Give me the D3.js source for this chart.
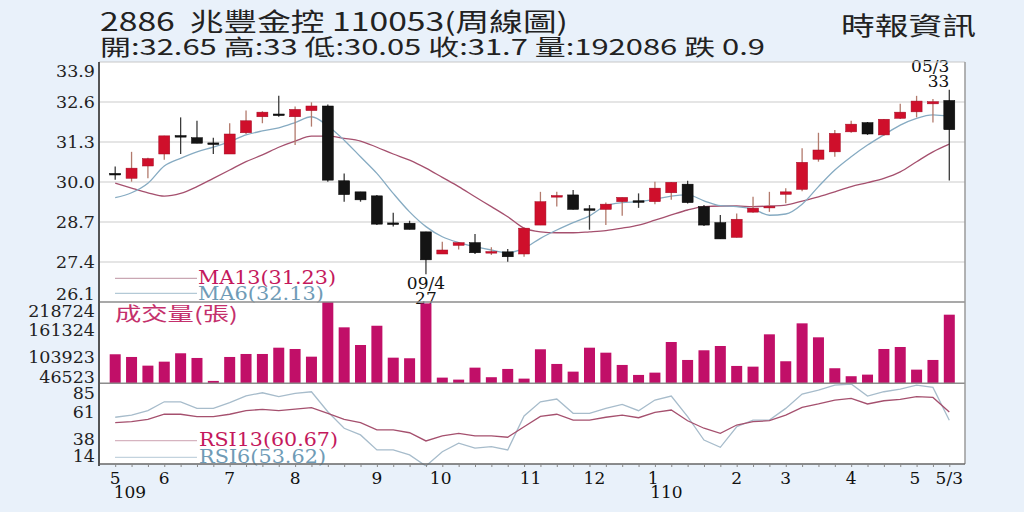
<!DOCTYPE html>
<html lang="zh-Hant">
<head>
    <meta charset="UTF-8">
    <title>2886 兆豐金控 周線圖</title>
    <script src="https://d3js.org/d3.v7.min.js"></script>
    <style>
        body { margin: 0; background: #e9f1fa; }
        svg { display: block; }
        text { white-space: pre; }
    </style>
</head>
<body>
    <svg width="1024" height="512"></svg>
    <script>
        // weekly candles, 109/05 .. 110/05/3 (one entry per week)
        const opens  = [30.28, 30.12, 30.52, 30.91, 31.51, 31.44, 31.27, 30.91, 31.60, 32.12,
                        32.21, 32.12, 32.32, 32.47, 30.04, 29.68, 29.55, 28.67, 28.66, 28.38,
                        27.66, 27.94, 28.03, 27.72, 27.73, 27.66, 28.60, 29.54, 29.58, 29.13,
                        29.11, 29.36, 29.39, 29.36, 29.65, 29.93, 29.20, 28.68, 28.20, 29.02,
                        29.19, 29.60, 29.76, 30.74, 30.98, 31.63, 31.93, 31.53, 32.07, 32.28,
                        32.54, 32.65];
        const highs  = [30.50, 30.98, 30.79, 31.50, 32.10, 31.99, 31.44, 31.91, 32.32, 32.30,
                        32.80, 32.45, 32.59, 32.52, 30.28, 29.68, 29.58, 29.00, 28.74, 28.38,
                        28.06, 28.05, 28.31, 27.88, 27.82, 28.52, 29.68, 29.68, 29.74, 29.25,
                        29.33, 29.50, 29.63, 30.01, 30.00, 30.04, 29.25, 28.93, 28.98, 29.52,
                        29.68, 29.80, 31.10, 31.60, 31.69, 31.99, 31.95, 32.05, 32.54, 32.80,
                        32.70, 33.00];
        const lows   = [30.07, 30.01, 30.12, 30.72, 30.91, 31.26, 30.91, 30.91, 31.56, 31.91,
                        32.12, 31.20, 31.80, 30.01, 29.36, 29.36, 28.60, 28.55, 28.46, 27.00,
                        27.66, 27.81, 27.66, 27.63, 27.41, 27.57, 28.60, 29.20, 29.11, 28.45,
                        28.60, 28.90, 29.16, 29.28, 29.42, 29.30, 28.57, 28.15, 28.20, 29.00,
                        29.03, 29.31, 29.70, 30.66, 30.82, 31.60, 31.53, 31.50, 32.05, 32.10,
                        31.93, 30.05];
        const closes = [30.27, 30.45, 30.76, 31.50, 31.49, 31.26, 31.25, 31.56, 31.99, 32.27,
                        32.19, 32.36, 32.47, 30.06, 29.59, 29.42, 28.63, 28.65, 28.46, 27.47,
                        27.79, 28.03, 27.70, 27.74, 27.57, 28.50, 29.36, 29.56, 29.11, 29.11,
                        29.28, 29.50, 29.37, 29.80, 29.99, 29.33, 28.60, 28.15, 28.79, 29.15,
                        29.21, 29.68, 30.64, 31.04, 31.58, 31.88, 31.56, 32.04, 32.27, 32.63,
                        32.61, 31.70];
        const volumes = [108946, 103289, 85063, 93443, 111041, 101194, 53009, 103289, 109574, 109574,
                         122773, 120049, 103918, 218724, 165511, 128429, 168863, 101823, 100566, 215791,
                         59923, 55733, 80873, 60761, 78149, 57828, 119421, 88624, 72493, 122773,
                         112298, 86529, 65579, 70398, 134714, 97004, 117326, 126334, 84434, 82968,
                         150846, 94281, 173891, 144561, 79616, 62856, 66208, 120049, 124239, 76683,
                         97004, 192086];
        const ma6  = [29.49, 29.65, 29.96, 30.52, 30.77, 30.98, 31.13, 31.31, 31.53, 31.66,
                      31.76, 31.93, 32.12, 31.82, 31.36, 30.82, 30.28, 29.63, 29.03, 28.55,
                      28.22, 28.03, 27.90, 27.79, 27.70, 27.85, 28.17, 28.44, 28.68, 28.90,
                      29.23, 29.33, 29.36, 29.44, 29.54, 29.58, 29.39, 29.23, 29.20, 29.12,
                      28.92, 28.96, 29.28, 29.85, 30.39, 30.82, 31.20, 31.53, 31.85, 32.07,
                      32.18, 32.13];
        const ma13 = [29.96, 29.80, 29.65, 29.54, 29.63, 29.85, 30.12, 30.39, 30.66, 30.88,
                      31.13, 31.33, 31.49, 31.49, 31.42, 31.33, 31.13, 30.91, 30.71, 30.45,
                      30.15, 29.85, 29.52, 29.20, 28.87, 28.50, 28.38, 28.35, 28.35, 28.38,
                      28.42, 28.50, 28.60, 28.76, 28.93, 29.09, 29.20, 29.22, 29.22, 29.20,
                      29.22, 29.25, 29.38, 29.52, 29.68, 29.85, 29.98, 30.12, 30.33, 30.66,
                      30.98, 31.23];
        const rsi6  = [56.2, 58.1, 61.9, 69.6, 69.6, 63.9, 63.9, 68.8, 74.8, 77.4,
                       74.0, 76.9, 78.3, 61.0, 46.7, 40.9, 27.9, 27.9, 23.6, 14.0,
                       26.4, 33.7, 29.4, 30.7, 27.9, 57.3, 69.6, 72.0, 59.6, 59.6,
                       63.9, 67.4, 61.9, 71.1, 74.6, 56.7, 36.5, 30.2, 48.0, 53.8,
                       53.8, 63.9, 76.3, 79.8, 84.1, 85.0, 74.6, 78.3, 80.6, 84.1,
                       82.1, 53.62];
        const rsi13 = [51.5, 52.4, 54.4, 59.0, 58.8, 56.7, 56.7, 58.8, 61.9, 63.1,
                       61.9, 63.3, 64.5, 59.6, 54.4, 51.5, 45.2, 45.2, 42.8, 35.7,
                       40.0, 42.3, 40.0, 40.0, 38.9, 48.0, 57.0, 58.8, 53.8, 53.8,
                       56.2, 58.1, 55.8, 60.5, 62.5, 53.2, 46.7, 42.3, 49.5, 52.4,
                       53.2, 58.1, 64.8, 67.7, 71.1, 72.6, 67.7, 70.5, 71.7, 74.0,
                       73.4, 60.67];

        const priceTicks = [33.9, 32.6, 31.3, 30.0, 28.7, 27.4, 26.1];
        const volumeTicks = [218724, 161324, 103923, 46523];
        const rsiTicks = [85, 61, 38, 14];
        // month labels, placed by week index
        const monthTickPos = [0, 3, 7, 11, 16, 19.9, 25.4, 29.3, 32.9, 38, 41, 45, 48.9, 51];
        const monthLabels = ["5", "6", "7", "8", "9", "10", "11", "12", "1", "2", "3", "4", "5", "5/3"];
        const yearTickPos = [0.9, 33.7];
        const yearLabels = ["109", "110"];

        const titleText = "2886  兆豐金控 110053(周線圖)";
        const quoteText = "開:32.65 高:33 低:30.05 收:31.7 量:192086 跌 0.9";
        const sourceText = "時報資訊";

        // layout
        const plotLeft = 99, plotRight = 965, plotTop = 62;
        const priceBottom = 302, volBottom = 383.3, rsiBottom = 464;
        const serif = "'DejaVu Serif', serif";
        const cjk = "'Noto Sans CJK TC', sans-serif";
        const red = "#cf0f2b", black = "#141414";
        const ma13Color = "#a5506e", ma6Color = "#86abc2";
        const legendRed = "#c4185c", legendBlue = "#6f9bb6";

        const svg = d3.select("svg");
        const idx = d3.range(closes.length);

        const x = d3.scaleLinear().domain([0, closes.length - 1]).range([115.2, 949.3]);
        const yPrice = d3.scaleLinear().domain([26.1, 33.9]).range([priceBottom, plotTop]);
        const yVol = d3.scaleLinear().domain([46523, 218724]).range([384, priceBottom]);
        const yRsi = d3.scaleLinear().domain([14, 85]).range([466, 384]);

        // plot background
        svg.append("rect")
            .attr("x", plotLeft).attr("y", plotTop)
            .attr("width", plotRight - plotLeft).attr("height", rsiBottom - plotTop)
            .attr("fill", "#fff");

        svg.append("clipPath").attr("id", "rsiClip")
            .append("rect")
            .attr("x", plotLeft).attr("y", volBottom)
            .attr("width", plotRight - plotLeft).attr("height", rsiBottom - volBottom + 2);

        // header
        svg.append("text")
            .attr("x", 100).attr("y", 31)
            .attr("font-family", cjk).attr("font-size", 25).attr("fill", "#222")
            .attr("textLength", 468).attr("lengthAdjust", "spacingAndGlyphs")
            .text(titleText);
        svg.append("text")
            .attr("x", 100).attr("y", 55)
            .attr("font-family", cjk).attr("font-size", 22).attr("fill", "#222")
            .attr("textLength", 665).attr("lengthAdjust", "spacingAndGlyphs")
            .text(quoteText);
        svg.append("text")
            .attr("x", 841).attr("y", 35)
            .attr("font-family", cjk).attr("font-size", 25).attr("fill", "#222")
            .attr("textLength", 135).attr("lengthAdjust", "spacingAndGlyphs")
            .text(sourceText);

        // price grid
        svg.append("g")
            .selectAll("line")
            .data(priceTicks.slice(1, -1))
            .join("line")
            .attr("x1", plotLeft).attr("x2", plotRight)
            .attr("y1", d => yPrice(d)).attr("y2", d => yPrice(d))
            .attr("stroke", "#dcdcdc").attr("stroke-width", 1.5);

        // axis labels, kept inside their panel like the original
        function tickLabels(ticks, scale, y0, y1, fmt) {
            svg.append("g")
                .selectAll("text")
                .data(ticks)
                .join("text")
                .attr("x", 95)
                .attr("y", d => Math.min(Math.max(scale(d), y0 + 9), y1 - 8))
                .attr("dy", "0.36em")
                .attr("text-anchor", "end")
                .attr("font-family", serif).attr("font-size", 17.5).attr("fill", "#222")
                .text(fmt);
        }
        tickLabels(priceTicks, yPrice, plotTop, priceBottom, d => d.toFixed(1));
        tickLabels(volumeTicks, yVol, priceBottom, volBottom + 1, d => d);
        tickLabels(rsiTicks, yRsi, volBottom, rsiBottom, d => d);

        // moving averages
        const maLine = d3.line().x((d, i) => x(i)).y(d => yPrice(d)).curve(d3.curveMonotoneX);
        svg.append("path").datum(ma13).attr("d", maLine)
            .attr("fill", "none").attr("stroke", ma13Color).attr("stroke-width", 1.3);
        svg.append("path").datum(ma6).attr("d", maLine)
            .attr("fill", "none").attr("stroke", ma6Color).attr("stroke-width", 1.3);

        // candles
        const candles = svg.append("g")
            .selectAll("g")
            .data(idx)
            .join("g");

        candles.append("line")
            .attr("x1", i => x(i)).attr("x2", i => x(i))
            .attr("y1", i => yPrice(highs[i])).attr("y2", i => yPrice(lows[i]))
            .attr("stroke", i => closes[i] > opens[i] ? "#b27a6c" : "#3a3a3a")
            .attr("stroke-width", 1.3);

        candles.append("rect")
            .attr("x", i => x(i) - 5.5)
            .attr("width", 11)
            .attr("y", i => yPrice(Math.max(opens[i], closes[i])))
            .attr("height", i => Math.max(1.6, Math.abs(yPrice(opens[i]) - yPrice(closes[i]))))
            .attr("fill", i => closes[i] > opens[i] ? red : black)
            .attr("stroke", i => closes[i] > opens[i] ? "#a30a22" : "#000")
            .attr("stroke-width", 0.5);

        // price legend
        svg.append("line").attr("x1", 115).attr("x2", 197).attr("y1", 278.3).attr("y2", 278.3)
            .attr("stroke", "#c9a7b3").attr("stroke-width", 1.3);
        svg.append("text").attr("x", 198).attr("y", 284)
            .attr("font-family", serif).attr("font-size", 18.5).attr("fill", legendRed)
            .attr("textLength", 138).attr("lengthAdjust", "spacingAndGlyphs")
            .text("MA13(" + ma13[ma13.length - 1].toFixed(2) + ")");
        svg.append("line").attr("x1", 115).attr("x2", 197).attr("y1", 293.3).attr("y2", 293.3)
            .attr("stroke", "#b3c9d6").attr("stroke-width", 1.3);
        svg.append("text").attr("x", 198).attr("y", 299.5)
            .attr("font-family", serif).attr("font-size", 18.5).attr("fill", legendBlue)
            .attr("textLength", 126).attr("lengthAdjust", "spacingAndGlyphs")
            .text("MA6(" + ma6[ma6.length - 1].toFixed(2) + ")");

        // low / high annotations
        const lowIdx = d3.minIndex(lows);
        const highIdx = d3.maxIndex(highs);
        svg.append("text").attr("x", x(lowIdx)).attr("y", 289)
            .attr("text-anchor", "middle")
            .attr("font-family", serif).attr("font-size", 17).attr("fill", "#111")
            .text("09/4");
        svg.append("text").attr("x", x(lowIdx)).attr("y", 304)
            .attr("text-anchor", "middle")
            .attr("font-family", serif).attr("font-size", 17).attr("fill", "#111")
            .text(d3.format("d")(lows[lowIdx]));
        svg.append("text").attr("x", x(highIdx)).attr("y", 72)
            .attr("text-anchor", "end")
            .attr("font-family", serif).attr("font-size", 17).attr("fill", "#111")
            .text("05/3");
        svg.append("text").attr("x", x(highIdx)).attr("y", 87)
            .attr("text-anchor", "end")
            .attr("font-family", serif).attr("font-size", 17).attr("fill", "#111")
            .text(d3.format("d")(highs[highIdx]));

        // volume bars
        svg.append("g")
            .selectAll("rect")
            .data(idx)
            .join("rect")
            .attr("x", i => x(i) - 5.5)
            .attr("width", 11)
            .attr("y", i => yVol(volumes[i]))
            .attr("height", i => Math.max(0, volBottom - yVol(volumes[i])))
            .attr("fill", "#c10f68");

        svg.append("text").attr("x", 115).attr("y", 321)
            .attr("font-family", cjk).attr("font-size", 19).attr("fill", "#c4306c")
            .attr("textLength", 123).attr("lengthAdjust", "spacingAndGlyphs")
            .text("成交量(張)");

        // RSI
        const rsiLine = d3.line().x((d, i) => x(i)).y(d => yRsi(d));
        const rsiG = svg.append("g").attr("clip-path", "url(#rsiClip)");
        rsiG.append("path").datum(rsi6).attr("d", rsiLine)
            .attr("fill", "none").attr("stroke", "#a7bccb").attr("stroke-width", 1.3);
        rsiG.append("path").datum(rsi13).attr("d", rsiLine)
            .attr("fill", "none").attr("stroke", ma13Color).attr("stroke-width", 1.3);

        svg.append("line").attr("x1", 115).attr("x2", 197).attr("y1", 440.7).attr("y2", 440.7)
            .attr("stroke", "#d6b4c0").attr("stroke-width", 1.2);
        svg.append("text").attr("x", 199).attr("y", 446)
            .attr("font-family", serif).attr("font-size", 18.5).attr("fill", legendRed)
            .attr("textLength", 139).attr("lengthAdjust", "spacingAndGlyphs")
            .text("RSI13(" + rsi13[rsi13.length - 1].toFixed(2) + ")");
        svg.append("line").attr("x1", 115).attr("x2", 197).attr("y1", 457.3).attr("y2", 457.3)
            .attr("stroke", "#c3d3de").attr("stroke-width", 1.2);
        svg.append("text").attr("x", 199).attr("y", 463)
            .attr("font-family", serif).attr("font-size", 18.5).attr("fill", legendBlue)
            .attr("textLength", 127).attr("lengthAdjust", "spacingAndGlyphs")
            .text("RSI6(" + rsi6[rsi6.length - 1].toFixed(2) + ")");

        // frame and panel separators
        svg.append("line").attr("x1", plotLeft).attr("x2", plotRight).attr("y1", plotTop).attr("y2", plotTop)
            .attr("stroke", "#c8c8c8").attr("stroke-width", 1.2);
        [priceBottom, volBottom].forEach(y => {
            svg.append("line").attr("x1", plotLeft).attr("x2", plotRight).attr("y1", y).attr("y2", y)
                .attr("stroke", "#8c8c8c").attr("stroke-width", 1.5);
        });
        svg.append("line").attr("x1", plotRight).attr("x2", plotRight).attr("y1", plotTop).attr("y2", rsiBottom)
            .attr("stroke", "#9a9a9a").attr("stroke-width", 1.5);

        // x axis
        const xAxis = d3.axisBottom(x).tickValues(idx).tickSize(3).tickFormat("");
        const gx = svg.append("g")
            .attr("transform", `translate(0,${rsiBottom})`)
            .call(xAxis);
        gx.select(".domain").attr("d", `M${plotLeft},0H${plotRight}`).attr("stroke", "#666").attr("stroke-width", 1.5);
        gx.selectAll(".tick line").attr("stroke", "#888");

        svg.append("line").attr("x1", plotLeft).attr("x2", plotLeft).attr("y1", plotTop).attr("y2", rsiBottom + 2)
            .attr("stroke", "#555").attr("stroke-width", 2);

        svg.append("g")
            .selectAll("text")
            .data(monthTickPos)
            .join("text")
            .attr("x", d => x(d))
            .attr("y", 483.5)
            .attr("text-anchor", "middle")
            .attr("font-family", serif).attr("font-size", 17).attr("fill", "#111")
            .text((d, i) => monthLabels[i]);

        svg.append("g")
            .selectAll("text")
            .data(yearTickPos)
            .join("text")
            .attr("x", d => x(d))
            .attr("y", 497.5)
            .attr("text-anchor", "middle")
            .attr("font-family", serif).attr("font-size", 17).attr("fill", "#111")
            .text((d, i) => yearLabels[i]);
    </script>
</body>
</html>
